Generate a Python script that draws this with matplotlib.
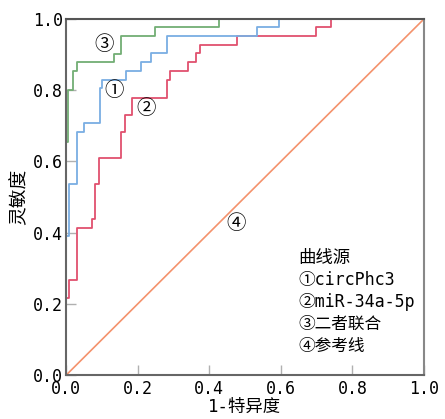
import matplotlib
matplotlib.use("Agg")
import matplotlib.pyplot as plt

plt.rcParams['font.family'] = ['DejaVu Sans Mono', 'Noto Sans CJK SC']

# ROC 曲线的顶点 (1-特异度, 灵敏度)
fpr_circ = [0, 0, 0.008, 0.008, 0.030, 0.030, 0.051, 0.051, 0.095, 0.095, 0.102, 0.102,
            0.167, 0.167, 0.209, 0.209, 0.237, 0.237, 0.281, 0.281, 0.533, 0.533, 0.595, 0.595, 1]
tpr_circ = [0, 0.39, 0.39, 0.537, 0.537, 0.682, 0.682, 0.707, 0.707, 0.806, 0.806, 0.829,
            0.829, 0.854, 0.854, 0.879, 0.879, 0.904, 0.904, 0.952, 0.952, 0.976, 0.976, 1, 1]

fpr_mir = [0, 0, 0.009, 0.009, 0.030, 0.030, 0.073, 0.073, 0.082, 0.082, 0.093, 0.093,
           0.155, 0.155, 0.165, 0.165, 0.186, 0.186, 0.281, 0.281, 0.290, 0.290, 0.342, 0.342,
           0.363, 0.363, 0.374, 0.374, 0.478, 0.478, 0.698, 0.698, 0.740, 0.740, 1]
tpr_mir = [0, 0.217, 0.217, 0.268, 0.268, 0.413, 0.413, 0.438, 0.438, 0.537, 0.537, 0.609,
           0.609, 0.682, 0.682, 0.731, 0.731, 0.779, 0.779, 0.829, 0.829, 0.854, 0.854, 0.879,
           0.879, 0.904, 0.904, 0.927, 0.927, 0.952, 0.952, 0.976, 0.976, 1, 1]

fpr_comb = [0, 0, 0.006, 0.006, 0.019, 0.019, 0.030, 0.030, 0.135, 0.135, 0.155, 0.155,
            0.250, 0.250, 0.427, 0.427, 1]
tpr_comb = [0, 0.656, 0.656, 0.80, 0.80, 0.854, 0.854, 0.879, 0.879, 0.902, 0.902, 0.952,
            0.952, 0.977, 0.977, 1, 1]

ref_x = [0, 1]
ref_y = [0, 1]

legend_title = "曲线源"
legend_items = ["①circPhc3", "②miR-34a-5p", "③二者联合", "④参考线"]
ticks = [0.0, 0.2, 0.4, 0.6, 0.8, 1.0]

fig = plt.figure(figsize=(4.45, 4.19), dpi=100)
ax = fig.add_axes([0.148, 0.104, 0.805, 0.851])

ax.plot(ref_x, ref_y, color="#f4926c", lw=1.2)
ax.plot(fpr_mir, tpr_mir, color="#e0506e", lw=1.3)
ax.plot(fpr_circ, tpr_circ, color="#7aaee3", lw=1.3)
ax.plot(fpr_comb, tpr_comb, color="#72ae74", lw=1.3)

ax.set_xlim(0, 1)
ax.set_ylim(0, 1)
ax.set_xticks(ticks)
ax.set_yticks(ticks)
ax.set_xticklabels([f"{t:.1f}" for t in ticks])
ax.set_yticklabels([f"{t:.1f}" for t in ticks])
ax.tick_params(direction="in", length=7, width=1, color="#b0b0b0", labelsize=12, pad=2)
ax.tick_params(axis="x", pad=3)

for s in ["left", "bottom"]:
    ax.spines[s].set_color("#666666")
    ax.spines[s].set_linewidth(1.5)
ax.spines["top"].set_color("#555555")
ax.spines["top"].set_linewidth(1.5)
ax.spines["right"].set_color("#888888")
ax.spines["right"].set_linewidth(1.5)

ax.set_xlabel("1-特异度", fontsize=12.5, labelpad=0)
ax.set_ylabel("灵敏度", fontsize=13.5, labelpad=3)

# 曲线上的编号
cjk = ['Noto Sans CJK SC', 'DejaVu Sans']
ax.text(0.106, 0.927, "③", fontsize=14, family=cjk, ha="center", va="center")
ax.text(0.134, 0.80, "①", fontsize=14, family=cjk, ha="center", va="center")
ax.text(0.223, 0.748, "②", fontsize=14, family=cjk, ha="center", va="center")
ax.text(0.475, 0.425, "④", fontsize=14, family=cjk, ha="center", va="center")

ax.text(0.648, 0.33, legend_title, fontsize=12.5, ha="left", va="center")
for i, item in enumerate(legend_items):
    ax.text(0.648, 0.268 - i * 0.062, item, fontsize=12, ha="left", va="center")

fig.savefig("out.png", dpi=100)
